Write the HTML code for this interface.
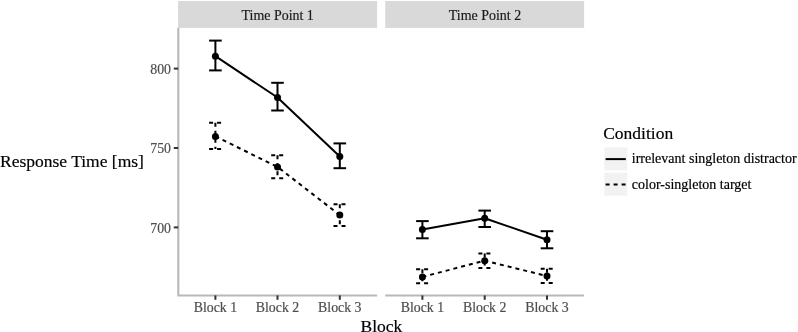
<!DOCTYPE html>
<html><head><meta charset="utf-8"><title>Response Time by Block</title>
<style>html,body{margin:0;padding:0;background:#fff}body{width:798px;height:332px;overflow:hidden}</style></head>
<body>
<svg width="798" height="332" viewBox="0 0 798 332" style="display:block">
<rect width="798" height="332" fill="#fff"/>
<rect x="178.1" y="1" width="199" height="26.9" fill="#d9d9d9"/>
<rect x="385.2" y="1" width="198.9" height="26.9" fill="#d9d9d9"/>
<g stroke="#b8b8b8" stroke-width="2.1" fill="none" stroke-linecap="butt" stroke-linejoin="round">
<polyline points="178.3,27.7 178.3,295.5 377.1,295.5"/>
<line x1="385.2" y1="295.5" x2="584.1" y2="295.5"/>
</g>
<g stroke="#333" stroke-width="2">
<line x1="173.8" y1="68.6" x2="178.2" y2="68.6"/>
<line x1="173.8" y1="148.0" x2="178.2" y2="148.0"/>
<line x1="173.8" y1="227.4" x2="178.2" y2="227.4"/>
<line x1="215.4" y1="295.4" x2="215.4" y2="299.8"/>
<line x1="277.5" y1="295.4" x2="277.5" y2="299.8"/>
<line x1="339.8" y1="295.4" x2="339.8" y2="299.8"/>
<line x1="422.4" y1="295.4" x2="422.4" y2="299.8"/>
<line x1="484.7" y1="295.4" x2="484.7" y2="299.8"/>
<line x1="547.0" y1="295.4" x2="547.0" y2="299.8"/>
</g>
<g font-family="'Liberation Serif', 'Times New Roman', serif" font-size="13.85" fill="#4d4d4d" stroke="#4d4d4d" stroke-width="0.18">
<text x="171" y="73.70" text-anchor="end">800</text>
<text x="171" y="153.10" text-anchor="end">750</text>
<text x="171" y="232.50" text-anchor="end">700</text>
<text x="215.4" y="311.8" text-anchor="middle">Block 1</text>
<text x="277.5" y="311.8" text-anchor="middle">Block 2</text>
<text x="339.8" y="311.8" text-anchor="middle">Block 3</text>
<text x="422.4" y="311.8" text-anchor="middle">Block 1</text>
<text x="484.7" y="311.8" text-anchor="middle">Block 2</text>
<text x="547.0" y="311.8" text-anchor="middle">Block 3</text>
</g>
<g font-family="'Liberation Serif', 'Times New Roman', serif" font-size="13.95" fill="#1a1a1a" stroke="#1a1a1a" stroke-width="0.18" text-anchor="middle">
<text x="277.7" y="19.6">Time Point 1</text>
<text x="485.0" y="19.6">Time Point 2</text>
</g>
<g font-family="'Liberation Serif', 'Times New Roman', serif" font-size="17.5" fill="#000" stroke="#000" stroke-width="0.18">
<text x="0" y="167.4">Response Time [ms]</text>
<text x="381.4" y="331.5" text-anchor="middle">Block</text>
<text x="603.2" y="139.2">Condition</text>
</g>
<rect x="604.3" y="147.4" width="23" height="23" fill="#f2f2f2"/>
<rect x="604.3" y="172.6" width="23" height="23" fill="#f2f2f2"/>
<g stroke="#000" stroke-width="2.0">
<line x1="605.6" y1="159.1" x2="625.8" y2="159.1"/>
<line x1="605.6" y1="184.5" x2="625.8" y2="184.5" stroke-dasharray="4 4"/>
</g>
<g font-family="'Liberation Serif', 'Times New Roman', serif" font-size="14" fill="#000" stroke="#000" stroke-width="0.18">
<text x="631.8" y="163.3">irrelevant singleton distractor</text>
<text x="631.8" y="188.7">color-singleton target</text>
</g>
<g stroke="#000" stroke-width="2.0" stroke-linecap="butt" stroke-linejoin="round">
<line x1="209.10" y1="40.6" x2="221.70" y2="40.6"/>
<line x1="215.4" y1="40.6" x2="215.4" y2="70.4"/>
<line x1="209.10" y1="70.4" x2="221.70" y2="70.4"/>
<line x1="271.20" y1="82.8" x2="283.80" y2="82.8"/>
<line x1="277.5" y1="82.8" x2="277.5" y2="110.5"/>
<line x1="271.20" y1="110.5" x2="283.80" y2="110.5"/>
<line x1="333.50" y1="143.4" x2="346.10" y2="143.4"/>
<line x1="339.8" y1="143.4" x2="339.8" y2="168.2"/>
<line x1="333.50" y1="168.2" x2="346.10" y2="168.2"/>
<polyline points="215.4,56.2 277.5,97.5 339.8,156.4" fill="none"/>
<circle cx="215.4" cy="56.2" r="3.5" fill="#000" stroke="none"/>
<circle cx="277.5" cy="97.5" r="3.5" fill="#000" stroke="none"/>
<circle cx="339.8" cy="156.4" r="3.5" fill="#000" stroke="none"/>
<line x1="209.10" y1="122.8" x2="221.70" y2="122.8" stroke-dasharray="4 4"/>
<line x1="215.4" y1="122.8" x2="215.4" y2="149.1" stroke-dasharray="4 4"/>
<line x1="209.10" y1="149.1" x2="221.70" y2="149.1" stroke-dasharray="4 4"/>
<line x1="271.20" y1="155.2" x2="283.80" y2="155.2" stroke-dasharray="4 4"/>
<line x1="277.5" y1="155.2" x2="277.5" y2="178.3" stroke-dasharray="4 4"/>
<line x1="271.20" y1="178.3" x2="283.80" y2="178.3" stroke-dasharray="4 4"/>
<line x1="333.50" y1="204.3" x2="346.10" y2="204.3" stroke-dasharray="4 4"/>
<line x1="339.8" y1="204.3" x2="339.8" y2="226.0" stroke-dasharray="4 4"/>
<line x1="333.50" y1="226.0" x2="346.10" y2="226.0" stroke-dasharray="4 4"/>
<polyline points="215.4,136.4 277.5,166.9 339.8,215.1" fill="none" stroke-dasharray="4 4"/>
<circle cx="215.4" cy="136.4" r="3.5" fill="#000" stroke="none"/>
<circle cx="277.5" cy="166.9" r="3.5" fill="#000" stroke="none"/>
<circle cx="339.8" cy="215.1" r="3.5" fill="#000" stroke="none"/>
<line x1="416.10" y1="221.1" x2="428.70" y2="221.1"/>
<line x1="422.4" y1="221.1" x2="422.4" y2="238.3"/>
<line x1="416.10" y1="238.3" x2="428.70" y2="238.3"/>
<line x1="478.40" y1="210.6" x2="491.00" y2="210.6"/>
<line x1="484.7" y1="210.6" x2="484.7" y2="227.0"/>
<line x1="478.40" y1="227.0" x2="491.00" y2="227.0"/>
<line x1="540.70" y1="231.2" x2="553.30" y2="231.2"/>
<line x1="547.0" y1="231.2" x2="547.0" y2="248.3"/>
<line x1="540.70" y1="248.3" x2="553.30" y2="248.3"/>
<polyline points="422.4,229.6 484.7,218.3 547.0,239.7" fill="none"/>
<circle cx="422.4" cy="229.6" r="3.5" fill="#000" stroke="none"/>
<circle cx="484.7" cy="218.3" r="3.5" fill="#000" stroke="none"/>
<circle cx="547.0" cy="239.7" r="3.5" fill="#000" stroke="none"/>
<line x1="416.10" y1="269.35" x2="428.70" y2="269.35" stroke-dasharray="4 4"/>
<line x1="422.4" y1="269.35" x2="422.4" y2="283.3" stroke-dasharray="4 4"/>
<line x1="416.10" y1="283.3" x2="428.70" y2="283.3" stroke-dasharray="4 4"/>
<line x1="478.40" y1="253.4" x2="491.00" y2="253.4" stroke-dasharray="4 4"/>
<line x1="484.7" y1="253.4" x2="484.7" y2="267.9" stroke-dasharray="4 4"/>
<line x1="478.40" y1="267.9" x2="491.00" y2="267.9" stroke-dasharray="4 4"/>
<line x1="540.70" y1="268.8" x2="553.30" y2="268.8" stroke-dasharray="4 4"/>
<line x1="547.0" y1="268.8" x2="547.0" y2="282.9" stroke-dasharray="4 4"/>
<line x1="540.70" y1="282.9" x2="553.30" y2="282.9" stroke-dasharray="4 4"/>
<polyline points="422.4,276.9 484.7,260.7 547.0,276.0" fill="none" stroke-dasharray="4 4"/>
<circle cx="422.4" cy="276.9" r="3.5" fill="#000" stroke="none"/>
<circle cx="484.7" cy="260.7" r="3.5" fill="#000" stroke="none"/>
<circle cx="547.0" cy="276.0" r="3.5" fill="#000" stroke="none"/>
</g>
</svg>
</body></html>
